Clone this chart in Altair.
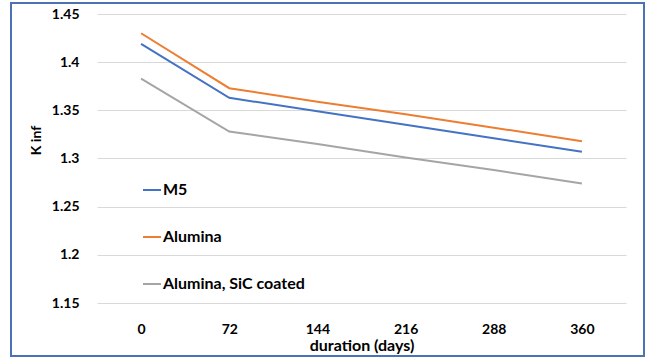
import altair as alt
import pandas as pd

# Irradiation duration (days) and k-infinity per cladding type
durations = ["0", "72", "144", "216", "288", "360"]
m5 = [1.419, 1.363, 1.349, 1.335, 1.321, 1.307]
alumina = [1.430, 1.373, 1.359, 1.346, 1.332, 1.318]
alumina_sic = [1.383, 1.328, 1.315, 1.301, 1.288, 1.274]

series_names = ["M5", "Alumina", "Alumina, SiC coated"]
series_colors = ["#4472C4", "#ED7D31", "#A5A5A5"]
y_ticks = [1.15, 1.2, 1.25, 1.3, 1.35, 1.4, 1.45]

rows = []
for name, vals in zip(series_names, [m5, alumina, alumina_sic]):
    for d, v in zip(durations, vals):
        rows.append({"duration": d, "kinf": v, "series": name})
df = pd.DataFrame(rows)

FONT = "Lato"

lines = alt.Chart(df).mark_line(strokeWidth=2).encode(
    x=alt.X(
        "duration:N",
        sort=durations,
        scale=alt.Scale(type="point", padding=0.5),
        axis=alt.Axis(
            title="duration (days)",
            labelAngle=0,
            ticks=False,
            domain=False,
            grid=False,
            labelPadding=19,
            titlePadding=1,
            titleFontSize=16,
        ),
    ),
    y=alt.Y(
        "kinf:Q",
        scale=alt.Scale(domain=[1.15, 1.45], nice=False, zero=False),
        axis=alt.Axis(
            title="K inf",
            values=y_ticks,
            format="~g",
            ticks=False,
            domain=False,
            labelPadding=18,
            titlePadding=8,
            titleY=126,
            gridColor="#d9d9d9",
            gridWidth=1,
        ),
    ),
    color=alt.Color(
        "series:N",
        sort=series_names,
        scale=alt.Scale(domain=series_names, range=series_colors),
        legend=alt.Legend(
            title=None,
            orient="none",
            legendX=45,
            legendY=166,
            symbolType="stroke",
            symbolSize=324,
            symbolStrokeWidth=2,
            rowPadding=29,
            labelOffset=1,
            labelFont=FONT,
            labelFontSize=16,
            labelFontWeight="bold",
            labelColor="#000000",
        ),
    ),
)

# Outer frame around the whole figure
frame = alt.Chart(alt.Data(values=[{}])).mark_rect(
    fill=None, stroke="#4a72b4", strokeWidth=2
).encode(
    x=alt.value(-86),
    x2=alt.value(547),
    y=alt.value(-11),
    y2=alt.value(342),
)

chart = (
    alt.layer(lines, frame)
    .properties(
        width=529,
        height=289,
        autosize=alt.AutoSizeParams(type="none"),
        padding={"left": 97, "top": 14, "right": 22, "bottom": 57},
        background="white",
    )
    .configure_view(stroke=None)
    .configure_axis(
        labelFont=FONT,
        labelFontSize=14,
        labelFontWeight="bold",
        labelColor="#000000",
        titleFont=FONT,
        titleFontSize=14,
        titleFontWeight="bold",
        titleColor="#000000",
    )
)

chart.save("out.html", embed_options={"renderer": "svg", "actions": False})
